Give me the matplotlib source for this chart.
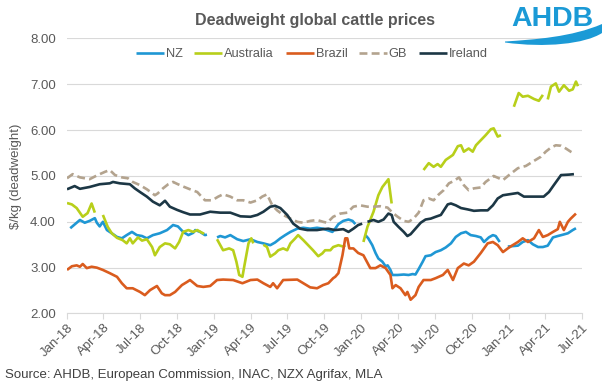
import numpy as np
import matplotlib
matplotlib.use('Agg')
import matplotlib.pyplot as plt
import matplotlib.dates as mdates
from matplotlib.path import Path
from matplotlib.patches import PathPatch

plt.rcParams['font.family'] = ['Liberation Sans', 'DejaVu Sans']

# weekly prices, $/kg deadweight
# days = days since 1 Jan 2018, None = gap in the series
nz_days = [8, 32, 44, 56, 69, 74, 81, 89, 99, 111, 124, 136, 148, 161, 173, 186, 198, 213, 230, 248,
           263, 275, 288, 301, 313, 318, 330, 342, 347, 360,
           372, 380, 392, 405, 422, 437, 455, 472, 487, 504, 516, 529, 541, 554, 571, 586, 603, 620,
           635, 645, 658, 665, 673, 685, 698, 708, 715, 728,
           740, 747, 757, 765, 772, 782, 790, 795, 802, 807, 820, 835, 847, 857, 864, 872, 882, 889,
           902, 914, 927, 939, 952, 964, 977, 989, 1001, 1014, 1026, 1034, 1046, 1056, 1063, 1073, 1083,
           1093, 1105, 1118, 1130, 1143, 1155, 1168, 1180, 1192, 1205, 1217, 1230, 1242, 1254, 1262]
nz = [3.86, 4.04, 3.98, 4.02, 4.08, 3.98, 3.90, 4.00, 3.82, 3.75, 3.67, 3.64, 3.71, 3.78, 3.71, 3.69,
      3.64, 3.71, 3.75, 3.82, 3.93, 3.90, 3.78, 3.71, 3.76, 3.82, 3.78, 3.71, 3.72, None,
      3.66, 3.69, 3.66, 3.71, 3.62, 3.58, 3.62, 3.56, 3.53, 3.49, 3.55, 3.64, 3.71, 3.78, 3.85, 3.87,
      3.85, 3.87, 3.85, 3.82, 3.78, 3.85, 3.95, 4.02, 4.05, 4.02, 3.95, None,
      3.71, 3.64, 3.49, 3.32, 3.20, 3.13, 3.03, 3.05, 2.95, 2.84, 2.84, 2.85, 2.84, 2.86, 2.85, 2.97,
      3.13, 3.25, 3.27, 3.34, 3.38, 3.44, 3.53, 3.67, 3.75, 3.78, 3.71, 3.69, 3.66, 3.56, 3.66, 3.71,
      3.69, 3.56, None,
      3.46, 3.47, 3.48, 3.56, 3.60, 3.51, 3.45, 3.45, 3.48, 3.66, 3.69, 3.72, 3.75, 3.82, 3.86]

aus_days = [0, 12, 24, 39, 51, 61, 69, 79,
            89, 101, 111, 124, 138, 148, 156, 163, 176, 186, 198, 211, 218, 230, 243, 255, 268, 278,
            288, 301, 313, 323, 335, 340, 355,
            372, 387, 402, 412, 420, 427, 435, 440, 450, 457, 462, 475,
            487, 496, 504, 516, 524, 536, 546, 554, 566, 573, 586, 598, 610, 623, 633, 640, 653, 660,
            673, 685, 690, 712,
            735, 745, 760, 772, 782, 790, 797, 805, 840,
            884, 897, 909, 919, 927, 939, 957, 969, 977, 984, 996, 1006, 1014, 1026, 1038, 1051, 1058,
            1068, 1076, 1090,
            1108, 1120, 1130, 1143, 1158, 1170, 1180, 1186,
            1192, 1200, 1212, 1220, 1232, 1245, 1254, 1262, 1267]
aus = [4.41, 4.38, 4.30, 4.11, 4.19, 4.40, 4.20, None,
       4.15, 3.89, 3.75, 3.65, 3.60, 3.53, 3.64, 3.53, 3.66, 3.59, 3.62, 3.45, 3.27, 3.45, 3.53, 3.51,
       3.42, 3.56, 3.78, 3.82, 3.78, 3.82, 3.76, 3.74, None,
       3.62, 3.38, 3.42, 3.38, 3.13, 2.84, 2.80, 3.05, 3.53, 3.64, 3.53, None,
       3.50, 3.45, 3.24, 3.31, 3.38, 3.42, 3.38, 3.53, 3.64, 3.71, 3.60, 3.49, 3.38, 3.25, 3.31, 3.38,
       3.38, 3.45, 3.49, 3.46, 3.49, None,
       3.56, 3.89, 4.22, 4.58, 4.76, 4.85, 4.93, 4.40, None,
       5.13, 5.28, 5.20, 5.26, 5.20, 5.35, 5.46, 5.65, 5.67, 5.53, 5.60, 5.53, 5.67, 5.78, 5.89, 6.02,
       6.04, 5.86, 5.89, None,
       6.51, 6.81, 6.73, 6.75, 6.68, 6.64, 6.77, None,
       6.67, 6.95, 7.02, 6.84, 6.98, 6.86, 6.89, 7.06, 6.96]

brazil_days = [0, 12, 24, 32, 39, 49, 61, 74, 89, 106, 124, 136, 148, 163, 181, 193, 206, 223, 235,
               243, 255, 268, 285, 298, 305, 323, 338, 355, 372, 387, 412, 435, 455, 472, 487, 504,
               511, 521, 536, 571, 586, 603, 620, 635, 648, 660, 665, 673, 683, 690, 695, 700, 710,
               722, 735, 752, 765, 777, 790, 802, 807, 815, 827, 839, 844, 852, 864, 872, 884, 902,
               914, 932, 944, 957, 969, 984, 996, 1009, 1026, 1043, 1056, 1068, 1081, 1093, 1105,
               1118, 1130, 1143, 1158, 1170, 1180, 1192, 1205, 1217, 1222, 1232, 1242, 1249, 1262]
brazil = [2.95, 3.03, 3.05, 3.02, 3.08, 2.99, 3.02, 3.00, 2.95, 2.88, 2.80, 2.66, 2.55, 2.55, 2.47,
          2.40, 2.51, 2.60, 2.44, 2.40, 2.40, 2.47, 2.62, 2.69, 2.73, 2.60, 2.58, 2.60, 2.73, 2.74,
          2.73, 2.66, 2.73, 2.74, 2.66, 2.58, 2.66, 2.55, 2.73, 2.74, 2.66, 2.57, 2.55, 2.62, 2.66,
          2.77, 2.80, 2.88, 3.27, 3.64, 3.64, 3.42, 3.42, 3.32, 3.27, 2.99, 2.99, 3.05, 2.99, 2.84,
          2.55, 2.62, 2.55, 2.40, 2.47, 2.30, 2.40, 2.58, 2.73, 2.73, 2.77, 2.84, 2.95, 2.73, 2.99,
          3.09, 3.05, 3.13, 3.32, 3.53, 3.56, 3.49, 3.34, 3.42, 3.49, 3.56, 3.64, 3.56, 3.64, 3.82,
          3.67, 3.71, 3.78, 3.84, 4.00, 3.82, 4.00, 4.07, 4.18]

gb_days = [0, 14, 32, 56, 76, 94, 106, 119, 136, 151, 163, 181, 198, 218, 225, 238, 251, 263, 275,
           288, 305, 323, 342, 360, 375, 387, 405, 422, 437, 455, 472, 484, 496, 509, 521, 536, 554,
           571, 586, 603, 620, 635, 645, 660, 678, 695, 710, 727, 745, 760, 777, 795, 807, 820, 835,
           847, 859, 872, 884, 897, 909, 922, 934, 947, 959, 972, 984, 996, 1009, 1026, 1038, 1058,
           1071, 1081, 1096, 1118, 1138, 1158, 1175, 1187, 1200, 1212, 1225, 1237, 1249, 1257]
gb = [4.95, 5.04, 4.97, 4.93, 5.02, 5.09, 5.13, 5.02, 4.97, 4.95, 4.87, 4.80, 4.71, 4.58, 4.62, 4.73,
      4.82, 4.87, 4.82, 4.77, 4.71, 4.65, 4.47, 4.47, 4.55, 4.60, 4.55, 4.47, 4.47, 4.42, 4.47, 4.55,
      4.60, 4.36, 4.25, 4.15, 4.07, 4.00, 3.98, 4.02, 4.04, 4.00, 3.98, 4.11, 4.18, 4.20, 4.33, 4.36,
      4.33, 4.33, 4.34, 4.31, 4.20, 4.11, 4.02, 4.00, 4.07, 4.20, 4.47, 4.51, 4.47, 4.60, 4.69, 4.84,
      4.89, 4.97, 4.80, 4.69, 4.73, 4.75, 4.87, 5.00, 4.95, 4.91, 5.02, 5.17, 5.22, 5.33, 5.42, 5.53,
      5.62, 5.67, 5.66, 5.60, 5.53, 5.49]

ireland_days = [0, 19, 32, 56, 81, 106, 114, 131, 156, 168, 181, 198, 213, 230, 243, 255, 273, 288,
                305, 330, 355, 380, 405, 430, 455, 472, 487, 504, 516, 529, 546, 561, 578, 596, 620,
                635, 648, 653, 665, 685, 698, 710, 722, 732, 739,
                745, 760, 772, 785, 797, 805, 810, 822, 835, 844, 852, 864, 877, 889, 902, 914, 927,
                944, 952, 964, 977, 994, 1009, 1026, 1043, 1056, 1068, 1081, 1096, 1118, 1133, 1158,
                1182, 1195, 1207, 1225, 1245, 1257]
ireland = [4.71, 4.78, 4.72, 4.76, 4.82, 4.84, 4.87, 4.84, 4.82, 4.73, 4.65, 4.55, 4.44, 4.36, 4.46,
           4.33, 4.26, 4.21, 4.16, 4.16, 4.22, 4.20, 4.20, 4.12, 4.11, 4.15, 4.22, 4.33, 4.35, 4.30,
           4.15, 3.96, 3.85, 3.82, 3.82, 3.84, 3.85, 3.84, 3.82, 3.84, 3.78, 3.85, 3.93, 3.96, None,
           4.00, 4.04, 4.00, 4.05, 4.18, 4.15, 4.00, 3.89, 3.78, 3.69, 3.73, 3.85, 3.98, 4.05, 4.07,
           4.11, 4.15, 4.38, 4.40, 4.36, 4.30, 4.27, 4.24, 4.25, 4.25, 4.36, 4.51, 4.58, 4.60, 4.63,
           4.55, 4.55, 4.55, 4.65, 4.80, 5.02, 5.03, 5.04]

series = [
    ('NZ', nz_days, nz, '#1F97D4', '-'),
    ('Australia', aus_days, aus, '#B8CF1A', '-'),
    ('Brazil', brazil_days, brazil, '#DA5C1E', '-'),
    ('GB', gb_days, gb, '#B3A38E', (0, (3, 1.6))),
    ('Ireland', ireland_days, ireland, '#1C3745', '-'),
]

grey = '#595959'
fig = plt.figure(figsize=(6.02, 3.92), dpi=100)
ax = fig.add_axes([0.1113, 0.2003, 0.8555, 0.7015])

start = np.datetime64('2018-01-01')
for name, days, vals, col, ls in series:
    d = start + np.array(days).astype('timedelta64[D]')
    v = np.array([np.nan if x is None else x for x in vals], dtype=float)
    ax.plot(d, v, color=col, lw=1.9, ls=ls, label=name, solid_capstyle='butt')

ax.set_ylim(2, 8)
ax.set_xlim(np.datetime64('2018-01-01'), np.datetime64('2021-07-01'))
ax.set_yticks(np.arange(2, 8.01, 1))
ax.yaxis.set_major_formatter(matplotlib.ticker.FormatStrFormatter('%.2f'))
ax.xaxis.set_major_locator(mdates.MonthLocator(bymonth=[1, 4, 7, 10]))
ax.xaxis.set_major_formatter(mdates.DateFormatter('%b-%y'))
ax.grid(axis='y', color='#d9d9d9', lw=0.8)
ax.set_axisbelow(True)
for s in ['top', 'right', 'left']:
    ax.spines[s].set_visible(False)
ax.spines['bottom'].set_color('#d9d9d9')
ax.tick_params(axis='y', length=0, labelsize=9.5, labelcolor=grey, pad=8)
ax.tick_params(axis='x', length=4, color='#d9d9d9', labelsize=9.5, labelcolor=grey, pad=2)
plt.setp(ax.get_xticklabels(), rotation=45, ha='right', rotation_mode='anchor')

ax.set_ylabel('$/kg (deadweight)', fontsize=9.5, color=grey)
ax.yaxis.set_label_coords(-0.088, 0.5)

fig.text(0.523, 0.948, 'Deadweight global cattle prices', ha='center', va='center',
         fontsize=11.5, fontweight='bold', color=grey)
fig.legend(loc='center', bbox_to_anchor=(0.518, 0.862), ncol=5, frameon=False,
           fontsize=9.2, handlelength=2.2, columnspacing=0.9, handletextpad=0.15,
           labelcolor=grey)

fig.text(0.008, 0.043, 'Source: AHDB, European Commission, INAC, NZX Agrifax, MLA',
         fontsize=9.5, color='#404040', va='center')

# AHDB logo: wordmark plus the swoosh underneath
fig.text(0.917, 0.951, 'AHDB', ha='center', va='center', fontsize=20.5, fontweight='bold',
         color='#1B9AD6')
W, H = 602.0, 392.0
pts = [(505, 41.5),
       (535, 39.5), (572, 37), (602, 24),
       (602, 33),
       (585, 44), (545, 48), (505, 42.5),
       (505, 41.5)]
codes = [Path.MOVETO,
         Path.CURVE4, Path.CURVE4, Path.CURVE4,
         Path.LINETO,
         Path.CURVE4, Path.CURVE4, Path.CURVE4,
         Path.CLOSEPOLY]
verts = [(x / W, 1 - y / H) for x, y in pts]
fig.patches.append(PathPatch(Path(verts, codes), transform=fig.transFigure,
                             facecolor='#1B9AD6', edgecolor='none'))

fig.savefig('out.png', dpi=100)
